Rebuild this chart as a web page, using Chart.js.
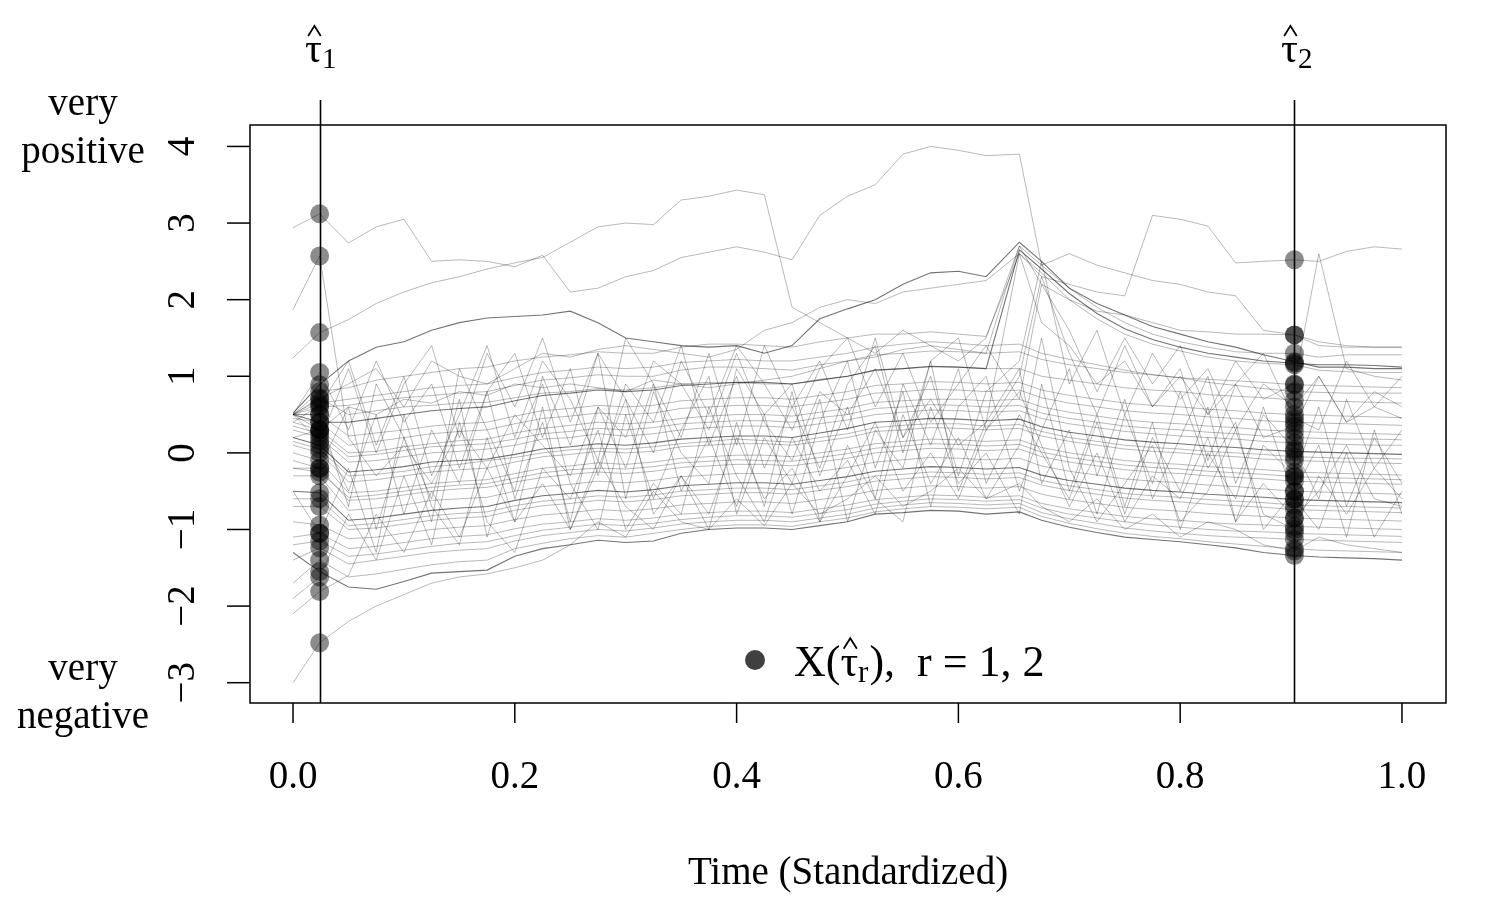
<!DOCTYPE html>
<html>
<head>
<meta charset="utf-8">
<script src="https://cdn.jsdelivr.net/npm/chart.js@4.4.1/dist/chart.umd.min.js"></script>
<style>
  html, body { margin: 0; padding: 0; background: #fff; }
  canvas { display: block; }
</style>
</head>
<body>
<canvas id="chart" width="1500" height="900"></canvas>
<script>
// time grid (standardized), index 1 = tau1, index 36 = tau2
const X_GRID = [0, 0.024, 0.05, 0.075, 0.1, 0.125, 0.15, 0.175, 0.2, 0.225,
  0.25, 0.275, 0.3, 0.325, 0.35, 0.375, 0.4, 0.425, 0.45, 0.475,
  0.5, 0.525, 0.55, 0.575, 0.6, 0.625, 0.655, 0.675, 0.7, 0.725,
  0.75, 0.775, 0.8, 0.825, 0.85, 0.875, 0.903, 0.925, 0.95, 0.975, 1.0];

const TAU_HAT = [0.024, 0.903];
const TAU_IDX = [1, 36];

const X_TICKS = [0, 0.2, 0.4, 0.6, 0.8, 1.0];
const X_TICK_LABELS = ["0.0", "0.2", "0.4", "0.6", "0.8", "1.0"];
const Y_TICKS = [-3, -2, -1, 0, 1, 2, 3, 4];
const Y_TICK_LABELS = ["\u22123", "\u22122", "\u22121", "0", "1", "2", "3", "4"];

// ---------- series ----------
const topLine = [2.94, 3.12, 2.74, 2.95, 3.05, 2.5, 2.52, 2.5, 2.43, 2.58,
  2.1, 2.15, 2.3, 2.38, 2.55, 2.62, 2.69, 2.62, 2.52, 3.1,
  3.35, 3.5, 3.9, 4.0, 3.95, 3.88, 3.9, 2.45, 2.6, 2.45,
  2.35, 2.25, 2.2, 2.1, 2.05, 1.6, 1.54, 1.4, 1.38, 1.38, 1.38];
const spikeEarly = [1.87, 2.57, 0.2, -0.3, 0.1, -0.4, 0.3, -0.2, 0.5, 0.1,
  -0.3, 0.6, 0.2, 1.2, 0.9, 0.3, 1.3, 0.4, -0.1, 0.8,
  0.5, 1.1, 0.2, 0.7, 0.1, 0.4, 2.6, 1.7, 1.4, 0.9,
  1.2, 0.6, 1.0, 0.5, 0.9, 0.2, 0.35, 1.0, 0.4, 0.6, 0.45];
const riseLine = [1.24, 1.57, 1.74, 1.95, 2.1, 2.22, 2.3, 2.4, 2.48, 2.55,
  2.75, 2.95, 3.0, 2.98, 3.3, 3.35, 3.43, 3.37, 1.9, 1.7,
  1.5, 1.3, 1.6, 1.4, 1.2, 1.5, 2.7, 2.2, 2.0, 1.85,
  1.8, 1.7, 1.6, 1.58, 1.55, 1.55, 1.54, 1.45, 1.4, 1.38, 1.38];
const lateJump = [0.5, 0.7, 0.9, 1.1, 0.6, 1.2, 1.0, 0.9, 1.1, 1.3,
  1.25, 1.35, 1.4, 1.35, 1.3, 1.25, 1.35, 1.6, 1.7, 1.9,
  2.0, 1.95, 2.1, 2.15, 2.2, 2.25, 2.6, 2.3, 2.2, 2.1,
  2.05, 3.1, 3.05, 2.96, 2.48, 2.5, 2.52, 2.5, 2.63, 2.69, 2.66];
const upperDark = [0.52, 0.89, 1.2, 1.38, 1.45, 1.6, 1.7, 1.76, 1.78, 1.8,
  1.85, 1.7, 1.5, 1.45, 1.4, 1.38, 1.4, 1.3, 1.4, 1.75,
  1.88, 2.0, 2.2, 2.35, 2.37, 2.3, 2.75, 2.5, 2.15, 1.95,
  1.8, 1.65, 1.55, 1.45, 1.38, 1.28, 1.19, 1.12, 1.12, 1.1, 1.1];
const convA = [0.5, 0.3, 0.6, 0.5, 0.7, 0.65, 0.8, 0.75, 0.9, 0.85,
  0.9, 0.85, 0.8, 0.95, 0.9, 0.85, 0.9, 0.95, 1.0, 1.1,
  1.2, 1.25, 1.35, 1.4, 1.35, 1.3, 2.7, 2.45, 2.15, 1.9,
  1.7, 1.55, 1.45, 1.38, 1.32, 1.3, 1.3, 1.25, 1.28, 1.28, 1.28];
const convB = [0.5, 0.4, 0.4, 0.45, 0.5, 0.55, 0.58, 0.6, 0.68, 0.75,
  0.78, 0.82, 0.8, 0.82, 0.88, 0.9, 0.92, 0.92, 0.9, 0.95,
  1.0, 1.08, 1.1, 1.13, 1.12, 1.1, 2.65, 2.4, 2.08, 1.82,
  1.62, 1.48, 1.38, 1.3, 1.25, 1.2, 1.17, 1.15, 1.15, 1.14, 1.12];
const convC = [0.5, 0.8, 0.85, 0.95, 1.0, 1.05, 1.1, 1.12, 1.2, 1.25,
  1.28, 1.32, 1.3, 1.3, 1.38, 1.42, 1.42, 1.4, 1.38, 1.45,
  1.5, 1.55, 1.55, 1.58, 1.55, 1.52, 2.6, 2.35, 2.0, 1.75,
  1.55, 1.42, 1.33, 1.25, 1.2, 1.17, 1.15, 1.08, 1.06, 1.05, 1.05];

const band00 = [0.5, 0.65, 0.7, 0.75, 0.8, 0.85, 0.88, 0.9, 0.98, 1.05,
  1.08, 1.12, 1.1, 1.12, 1.18, 1.2, 1.22, 1.2, 1.2, 1.25,
  1.3, 1.38, 1.42, 1.45, 1.43, 1.4, 1.42, 1.3, 1.22, 1.15,
  1.08, 1.02, 0.98, 0.92, 0.88, 0.84, 0.8, 0.79, 0.78, 0.78, 0.78];
const band01 = [0.5, 0.6, 0.62, 0.68, 0.72, 0.75, 0.78, 0.8, 0.88, 0.95,
  0.98, 1.02, 1.0, 1.0, 1.08, 1.12, 1.12, 1.1, 1.08, 1.15,
  1.2, 1.28, 1.3, 1.33, 1.32, 1.3, 1.32, 1.22, 1.15, 1.1,
  1.05, 1.02, 0.98, 0.96, 0.94, 0.92, 0.89, 0.88, 0.87, 0.86, 0.85];
const band02 = [0.5, 0.72, 0.5, 0.55, 0.6, 0.62, 0.65, 0.66, 0.72, 0.78,
  0.8, 0.84, 0.82, 0.85, 0.9, 0.92, 0.92, 0.9, 0.9, 0.96,
  1.0, 1.08, 1.1, 1.12, 1.12, 1.1, 1.1, 1.0, 0.95, 0.9,
  0.85, 0.82, 0.8, 0.76, 0.74, 0.72, 0.69, 0.68, 0.67, 0.66, 0.65];
const band03 = [0.5, 0.5, 0.22, 0.26, 0.3, 0.35, 0.38, 0.4, 0.48, 0.55,
  0.58, 0.62, 0.6, 0.62, 0.68, 0.7, 0.72, 0.72, 0.7, 0.75,
  0.8, 0.88, 0.9, 0.93, 0.92, 0.9, 0.92, 0.82, 0.75, 0.7,
  0.65, 0.62, 0.6, 0.57, 0.55, 0.52, 0.5, 0.49, 0.48, 0.47, 0.46];
const band04 = [0.45, 0.4, 0.1, 0.15, 0.2, 0.25, 0.28, 0.3, 0.38, 0.45,
  0.48, 0.52, 0.5, 0.52, 0.58, 0.6, 0.62, 0.62, 0.6, 0.65,
  0.7, 0.78, 0.8, 0.83, 0.82, 0.8, 0.82, 0.72, 0.65, 0.6,
  0.55, 0.52, 0.5, 0.47, 0.45, 0.42, 0.4, 0.39, 0.38, 0.37, 0.36];
const band05 = [0.4, 0.3, 0.0, 0.02, 0.08, 0.12, 0.16, 0.18, 0.26, 0.32,
  0.36, 0.4, 0.38, 0.4, 0.45, 0.48, 0.5, 0.5, 0.48, 0.53,
  0.58, 0.66, 0.68, 0.7, 0.7, 0.68, 0.7, 0.6, 0.53, 0.48,
  0.43, 0.4, 0.38, 0.35, 0.33, 0.3, 0.28, 0.27, 0.26, 0.25, 0.24];
const band05b = [0.35, 0.25, -0.05, -0.02, 0.03, 0.08, 0.1, 0.12, 0.18, 0.25,
  0.28, 0.32, 0.3, 0.33, 0.38, 0.4, 0.42, 0.42, 0.4, 0.46,
  0.5, 0.58, 0.6, 0.63, 0.62, 0.6, 0.62, 0.52, 0.45, 0.4,
  0.35, 0.32, 0.3, 0.27, 0.25, 0.22, 0.2, 0.19, 0.18, 0.18, 0.17];
const band06 = [0.3, 0.2, -0.12, -0.1, -0.05, 0.0, 0.02, 0.05, 0.1, 0.18,
  0.2, 0.25, 0.22, 0.25, 0.3, 0.33, 0.35, 0.35, 0.33, 0.38,
  0.43, 0.5, 0.53, 0.56, 0.55, 0.53, 0.55, 0.45, 0.38, 0.33,
  0.28, 0.25, 0.22, 0.2, 0.18, 0.15, 0.13, 0.12, 0.11, 0.1, 0.1];
const band07 = [0.2, 0.1, -0.25, -0.22, -0.18, -0.12, -0.1, -0.08, -0.02, 0.05,
  0.08, 0.12, 0.1, 0.13, 0.18, 0.2, 0.22, 0.22, 0.2, 0.26,
  0.32, 0.4, 0.42, 0.45, 0.44, 0.42, 0.44, 0.34, 0.27, 0.22,
  0.17, 0.14, 0.12, 0.09, 0.07, 0.04, 0.02, 0.01, 0.0, -0.01, -0.02];
const band07b = [0.15, 0.05, -0.3, -0.28, -0.24, -0.18, -0.15, -0.1, -0.06, 0.0,
  0.04, 0.06, 0.05, 0.08, 0.12, 0.15, 0.18, 0.16, 0.14, 0.2,
  0.25, 0.33, 0.36, 0.38, 0.38, 0.35, 0.37, 0.28, 0.2, 0.15,
  0.1, 0.07, 0.05, 0.02, 0.0, -0.02, -0.05, -0.06, -0.07, -0.07, -0.08];
const band08 = [0.1, 0.0, -0.38, -0.35, -0.3, -0.25, -0.22, -0.2, -0.12, -0.05,
  -0.02, 0.02, 0.0, 0.02, 0.08, 0.1, 0.12, 0.12, 0.1, 0.15,
  0.2, 0.28, 0.3, 0.33, 0.32, 0.3, 0.32, 0.22, 0.15, 0.1,
  0.05, 0.02, 0.0, -0.03, -0.05, -0.08, -0.1, -0.11, -0.12, -0.13, -0.14];
const band09 = [0.0, -0.1, -0.52, -0.5, -0.45, -0.4, -0.37, -0.35, -0.27, -0.2,
  -0.17, -0.13, -0.15, -0.12, -0.07, -0.05, -0.03, -0.03, -0.05, 0.0,
  0.05, 0.12, 0.15, 0.18, 0.17, 0.15, 0.17, 0.07, 0.0, -0.05,
  -0.1, -0.13, -0.15, -0.18, -0.2, -0.22, -0.25, -0.26, -0.27, -0.28, -0.29];
const band09b = [-0.2, -0.25, -0.58, -0.55, -0.5, -0.45, -0.42, -0.4, -0.33, -0.26,
  -0.22, -0.2, -0.21, -0.18, -0.13, -0.11, -0.09, -0.1, -0.11, -0.06,
  -0.01, 0.06, 0.09, 0.12, 0.11, 0.09, 0.11, 0.01, -0.06, -0.11,
  -0.16, -0.19, -0.21, -0.24, -0.26, -0.28, -0.31, -0.32, -0.33, -0.34, -0.35];
const band10 = [-0.1, -0.2, -0.62, -0.6, -0.55, -0.5, -0.47, -0.45, -0.38, -0.32,
  -0.28, -0.25, -0.27, -0.24, -0.19, -0.17, -0.15, -0.15, -0.17, -0.12,
  -0.07, 0.0, 0.03, 0.06, 0.05, 0.03, 0.05, -0.05, -0.12, -0.17,
  -0.22, -0.25, -0.27, -0.3, -0.32, -0.34, -0.37, -0.38, -0.39, -0.4, -0.41];
const band11 = [-0.3, -0.3, -0.75, -0.72, -0.68, -0.62, -0.6, -0.58, -0.5, -0.44,
  -0.41, -0.37, -0.39, -0.36, -0.31, -0.29, -0.27, -0.27, -0.29, -0.24,
  -0.19, -0.12, -0.09, -0.06, -0.07, -0.09, -0.07, -0.17, -0.24, -0.29,
  -0.34, -0.37, -0.39, -0.42, -0.44, -0.47, -0.5, -0.51, -0.52, -0.53, -0.54];
const band12 = [-0.5, -0.52, -0.88, -0.85, -0.8, -0.75, -0.72, -0.7, -0.62, -0.56,
  -0.53, -0.49, -0.51, -0.48, -0.43, -0.41, -0.39, -0.39, -0.41, -0.36,
  -0.31, -0.24, -0.21, -0.18, -0.19, -0.21, -0.19, -0.29, -0.36, -0.41,
  -0.46, -0.49, -0.51, -0.54, -0.56, -0.58, -0.61, -0.62, -0.63, -0.64, -0.65];
const band12b = [-0.6, -0.6, -0.95, -0.92, -0.87, -0.82, -0.79, -0.77, -0.69, -0.63,
  -0.6, -0.56, -0.58, -0.55, -0.5, -0.48, -0.46, -0.46, -0.48, -0.43,
  -0.38, -0.3, -0.28, -0.25, -0.26, -0.28, -0.26, -0.36, -0.43, -0.48,
  -0.53, -0.56, -0.58, -0.61, -0.63, -0.65, -0.68, -0.69, -0.7, -0.71, -0.72];
const band13 = [-0.7, -0.7, -1.0, -0.98, -0.93, -0.88, -0.85, -0.83, -0.75, -0.69,
  -0.66, -0.62, -0.64, -0.61, -0.56, -0.54, -0.52, -0.52, -0.54, -0.49,
  -0.44, -0.37, -0.34, -0.31, -0.32, -0.34, -0.32, -0.42, -0.49, -0.54,
  -0.59, -0.62, -0.64, -0.67, -0.69, -0.71, -0.74, -0.75, -0.76, -0.77, -0.78];
const band14 = [-0.9, -0.94, -1.12, -1.1, -1.05, -1.0, -0.97, -0.95, -0.87, -0.81,
  -0.78, -0.74, -0.76, -0.73, -0.68, -0.66, -0.64, -0.64, -0.66, -0.61,
  -0.56, -0.49, -0.46, -0.43, -0.44, -0.46, -0.44, -0.54, -0.61, -0.66,
  -0.71, -0.74, -0.76, -0.79, -0.81, -0.83, -0.85, -0.86, -0.87, -0.88, -0.89];
const band15 = [-1.1, -1.05, -1.25, -1.22, -1.17, -1.12, -1.09, -1.07, -0.99, -0.93,
  -0.9, -0.86, -0.88, -0.85, -0.8, -0.78, -0.76, -0.76, -0.78, -0.73,
  -0.68, -0.61, -0.58, -0.55, -0.56, -0.58, -0.56, -0.66, -0.73, -0.78,
  -0.83, -0.86, -0.88, -0.91, -0.93, -0.94, -0.96, -0.97, -0.98, -0.99, -1.0];
const band15b = [-1.2, -1.15, -1.35, -1.32, -1.27, -1.22, -1.18, -1.16, -1.08, -1.01,
  -0.97, -0.93, -0.95, -0.92, -0.87, -0.84, -0.82, -0.82, -0.84, -0.79,
  -0.74, -0.67, -0.63, -0.6, -0.61, -0.63, -0.61, -0.72, -0.8, -0.85,
  -0.9, -0.94, -0.97, -1.0, -1.02, -1.03, -1.05, -1.06, -1.07, -1.08, -1.09];
const band16 = [-1.4, -1.24, -1.45, -1.4, -1.35, -1.3, -1.27, -1.25, -1.15, -1.08,
  -1.04, -1.0, -1.02, -0.98, -0.93, -0.9, -0.88, -0.88, -0.9, -0.85,
  -0.8, -0.72, -0.68, -0.65, -0.66, -0.68, -0.66, -0.78, -0.86, -0.92,
  -0.98, -1.02, -1.05, -1.08, -1.1, -1.11, -1.13, -1.14, -1.15, -1.16, -1.17];
const band17 = [-1.7, -1.4, -1.62, -1.58, -1.52, -1.46, -1.42, -1.4, -1.25, -1.18,
  -1.12, -1.08, -1.1, -1.05, -1.0, -0.96, -0.94, -0.94, -0.96, -0.9,
  -0.85, -0.77, -0.73, -0.7, -0.71, -0.73, -0.71, -0.83, -0.92, -0.99,
  -1.05, -1.09, -1.12, -1.16, -1.19, -1.22, -1.25, -1.27, -1.28, -1.29, -1.3];
const lowerDark = [-1.3, -1.55, -1.75, -1.78, -1.68, -1.57, -1.55, -1.53, -1.35, -1.25,
  -1.2, -1.14, -1.17, -1.15, -1.05, -1.0, -0.98, -0.98, -1.0, -0.95,
  -0.9, -0.8, -0.78, -0.75, -0.76, -0.8, -0.77, -0.88, -0.97, -1.04,
  -1.1, -1.13, -1.16, -1.2, -1.24, -1.3, -1.34, -1.36, -1.37, -1.38, -1.4];
const lowOutlier = [-3.0, -2.48, -2.2, -2.0, -1.85, -1.7, -1.62, -1.58, -1.5, -1.4,
  -1.2, -0.9, -1.1, -0.5, -0.9, -1.0, -0.6, -0.95, -0.4, -0.8,
  -0.6, -0.3, -0.7, -0.5, -0.2, -0.6, -0.4, -0.7, -0.9, -0.6,
  -1.0, -0.8, -1.1, -0.9, -1.0, -1.2, -1.28, -1.1, -1.2, -1.25, -1.3];

const jump1 = [0.5, 1.05, 0.3, 1.2, 0.4, 0.9, -0.2, 0.8, 1.3, 0.2,
  1.1, -0.3, 0.9, 0.4, 1.4, 0.1, 1.0, -0.2, 0.6, 1.2,
  0.3, 1.5, 0.2, 1.0, -0.3, 0.8, 1.2, 2.5, 0.9, 1.6,
  0.5, 1.3, 0.7, 1.1, 0.3, 0.9, 0.6, 1.0, 0.4, 0.8, 0.6];
const jump2 = [0.2, 0.3, -0.5, 0.5, -0.8, 0.3, -0.4, 0.8, -0.6, 0.4,
  -0.9, 0.6, -0.2, 0.9, -0.5, 0.2, -0.7, 0.5, 0.9, -0.3,
  0.6, -0.6, 0.9, 0.1, 1.1, -0.4, 0.5, 0.0, -0.6, 0.4,
  -0.8, 0.2, -0.5, 0.6, -0.9, 0.1, -0.3, 0.6, -0.7, 0.2, -0.4];
const jump3 = [-0.2, -0.2, 0.6, -1.0, 0.2, -0.6, 0.7, -1.1, 0.1, 0.9,
  -0.4, -1.0, 0.5, -0.6, 0.3, 1.0, -0.8, 0.2, -0.4, 0.7,
  -0.9, 0.3, -0.2, 1.2, -0.5, 0.4, 1.1, -0.4, 0.3, -0.8,
  0.5, -0.4, 0.8, -0.2, 0.4, -1.0, -0.5, 0.1, -1.1, 0.3, -0.8];
const jump4 = [-1.9, -1.62, -0.8, -1.4, -0.3, -1.2, 0.4, -0.9, -1.3, -0.2,
  -0.6, 0.3, -1.0, -0.4, -0.8, 0.6, -0.3, -0.9, 0.2, -0.5,
  -0.1, -0.8, 0.5, -0.4, 0.2, -0.6, 0.1, 1.5, -0.2, -0.9,
  -0.4, 0.1, -0.9, -0.5, 0.3, -0.8, -1.0, -0.3, -0.8, -0.2, -0.6];
const jump5 = [0.5, 0.15, 1.1, 0.0, 0.9, 1.4, 0.2, 1.3, 0.6, 1.5,
  0.4, 1.3, 0.7, 0.0, 1.2, 0.5, 1.4, 0.9, 0.3, 1.1,
  1.5, 0.6, 1.3, 0.4, 0.9, 1.4, 0.7, 2.2, 1.6, 0.8,
  1.5, 0.9, 1.4, 0.5, 1.2, 0.7, 0.9, 2.6, 1.1, 1.0, 0.95];
const jump6 = [-2.1, -1.81, -1.6, -0.8, -1.3, -0.5, -1.1, -0.2, -0.9, -0.4,
  -1.0, -0.1, -0.7, -1.0, -0.3, -0.8, 0.2, -0.6, -0.2, -0.9,
  -0.3, 0.4, -0.5, 0.0, -0.6, 0.3, 0.8, 0.1, -0.7, 0.0,
  -0.9, -0.3, -0.6, 0.2, -0.9, -0.4, -0.85, -0.5, 0.1, -0.6, -0.7];
const jump7 = [0.5, 0.5, -0.7, 0.9, 0.2, -0.9, 1.1, 0.3, -0.5, 1.0,
  0.1, 1.3, -0.6, 0.8, 0.0, -0.4, 1.1, 0.5, -0.8, 0.4,
  1.2, -0.2, 0.8, -0.7, 0.6, 1.0, -0.5, 0.3, 1.1, -0.3,
  0.7, -0.6, 0.2, 1.0, -0.4, 0.5, 0.05, -0.6, 0.7, -0.2, 0.3];
const jump8 = [-0.5, -1.05, -0.2, -1.3, 0.5, -0.7, -1.2, 0.2, -0.9, 0.6,
  -1.0, -0.2, 0.7, -0.8, -0.3, -1.0, 0.4, -0.7, 0.8, -0.9,
  0.1, -0.6, -0.9, 0.6, -0.4, 0.0, -0.8, 0.9, -0.5, 0.5,
  -0.7, 0.4, -1.0, 0.0, -0.6, 0.6, -0.6, -1.0, 0.0, -1.1, -0.5];
const jump9 = [0.4, 0.62, 1.2, 0.1, 1.0, -0.3, 0.5, 1.4, 0.2, 1.2,
  0.7, -0.1, 1.5, 0.9, 0.2, 1.3, 0.1, 1.4, 0.6, -0.2,
  0.9, 1.4, 0.0, 1.2, 1.5, 0.3, 1.0, 2.3, 1.3, 0.5,
  1.4, 0.6, 1.1, -0.1, 0.9, 1.3, 0.45, 0.3, 1.2, 0.6, 1.0];

const LIGHT_SERIES = [topLine, spikeEarly, riseLine, lateJump, convA, convC,
  band00, band01, band02, band03, band04, band05, band05b, band06, band07b,
  band08, band09, band09b, band10, band11, band12b, band13, band14, band15,
  band15b, band16, band17, lowOutlier,
  jump1, jump2, jump3, jump4, jump5, jump6, jump7, jump8, jump9];
const DARK_SERIES = [upperDark, convB, band07, band12, lowerDark];

const SERIF = '"Liberation Serif", "DejaVu Serif", serif';

// ---------- build datasets ----------
const toPts = (arr) => arr.map((y, i) => ({ x: X_GRID[i], y }));

const datasets = [];
LIGHT_SERIES.forEach((s) => {
  datasets.push({
    type: "line", data: toPts(s), showLine: true,
    borderColor: "rgba(0,0,0,0.28)", borderWidth: 1,
    pointRadius: 0, tension: 0, fill: false,
  });
});
DARK_SERIES.forEach((s) => {
  datasets.push({
    type: "line", data: toPts(s), showLine: true,
    borderColor: "rgba(0,0,0,0.55)", borderWidth: 1.1,
    pointRadius: 0, tension: 0, fill: false,
  });
});

// points X(tau_r) taken from every series at the two tau indices
const allSeries = LIGHT_SERIES.concat(DARK_SERIES);
const tauPts = [];
TAU_IDX.forEach((k) => {
  allSeries.forEach((s) => tauPts.push({ x: X_GRID[k], y: s[k] }));
});
datasets.push({
  type: "scatter", data: tauPts, showLine: false,
  pointRadius: 9.5, pointHoverRadius: 9.5, borderWidth: 0,
  pointBackgroundColor: "rgba(0,0,0,0.45)", pointBorderColor: "rgba(0,0,0,0)",
});

// ---------- drawing helpers ----------
function drawHat(ctx, cx, top, w, h) {
  ctx.beginPath();
  ctx.moveTo(cx - w / 2, top + h);
  ctx.lineTo(cx, top);
  ctx.lineTo(cx + w / 2, top + h);
  ctx.lineWidth = 1.8;
  ctx.strokeStyle = "#000";
  ctx.stroke();
}

// draws tau-hat with subscript, returns x after it
function drawTauHat(ctx, x, base, size, sub) {
  ctx.font = `${size}px ${SERIF}`;
  ctx.textAlign = "left";
  ctx.textBaseline = "alphabetic";
  ctx.fillText("\u03c4", x, base);
  const w = ctx.measureText("\u03c4").width;
  drawHat(ctx, x + w / 2 + 1, base - size * 0.86, size * 0.3, size * 0.24);
  ctx.font = `${Math.round(size * 0.7)}px ${SERIF}`;
  ctx.fillText(sub, x + w, base + size * 0.14);
  return x + w + ctx.measureText(sub).width;
}

const axesPlugin = {
  id: "rAxes",
  beforeDatasetsDraw(chart) {
    const { ctx, scales: { x } } = chart;
    const a = chart.chartArea;
    ctx.save();
    ctx.strokeStyle = "#000";
    ctx.lineWidth = 1.6;
    TAU_HAT.forEach((t) => {
      const px = Math.round(x.getPixelForValue(t)) + 0.5;
      ctx.beginPath();
      ctx.moveTo(px, 100);
      ctx.lineTo(px, a.bottom);
      ctx.stroke();
    });
    ctx.restore();
  },
  afterDraw(chart) {
    const { ctx, scales: { x, y } } = chart;
    const a = chart.chartArea;
    ctx.save();
    ctx.strokeStyle = "#000";
    ctx.fillStyle = "#000";
    ctx.lineWidth = 1.5;
    ctx.strokeRect(a.left, a.top, a.right - a.left, a.bottom - a.top);

    // x axis
    ctx.font = `39px ${SERIF}`;
    ctx.textAlign = "center";
    ctx.textBaseline = "middle";
    X_TICKS.forEach((v, i) => {
      const px = x.getPixelForValue(v);
      ctx.beginPath();
      ctx.moveTo(px, a.bottom);
      ctx.lineTo(px, a.bottom + 20);
      ctx.stroke();
      ctx.fillText(X_TICK_LABELS[i], px, 778);
    });

    // y axis, labels read bottom to top
    Y_TICKS.forEach((v, i) => {
      const py = y.getPixelForValue(v);
      ctx.beginPath();
      ctx.moveTo(a.left, py);
      ctx.lineTo(a.left - 23, py);
      ctx.stroke();
      ctx.save();
      ctx.translate(184, py);
      ctx.rotate(-Math.PI / 2);
      ctx.fillText(Y_TICK_LABELS[i], 0, 0);
      ctx.restore();
    });

    // side notes
    ctx.fillText("very", 83, 105);
    ctx.fillText("positive", 83, 153);
    ctx.fillText("very", 83, 670);
    ctx.fillText("negative", 83, 718);

    ctx.fillText("Time (Standardized)", 848, 874);

    // tau labels above the plot
    drawTauHat(ctx, 305, 62, 42, "1");
    drawTauHat(ctx, 1281, 62, 42, "2");

    // legend
    ctx.beginPath();
    ctx.arc(755, 660, 10, 0, Math.PI * 2);
    ctx.fillStyle = "rgb(64,64,64)";
    ctx.fill();
    ctx.fillStyle = "#000";
    ctx.font = `44px ${SERIF}`;
    ctx.textAlign = "left";
    ctx.textBaseline = "alphabetic";
    const base = 676;
    ctx.fillText("X(", 794, base);
    let cx = 794 + ctx.measureText("X(").width;
    cx = drawTauHat(ctx, cx, base, 44, "r");
    ctx.font = `44px ${SERIF}`;
    ctx.fillText("),  r = 1, 2", cx + 1, base);
    ctx.restore();
  },
};

new Chart(document.getElementById("chart"), {
  type: "scatter",
  data: { datasets },
  options: {
    responsive: false,
    animation: false,
    events: [],
    layout: { padding: { left: 250, top: 125, right: 54, bottom: 197 } },
    scales: {
      x: { type: "linear", min: -0.0388, max: 1.0397, display: false },
      y: { type: "linear", min: -3.265, max: 4.28, display: false },
    },
    plugins: { legend: { display: false }, tooltip: { enabled: false } },
  },
  plugins: [axesPlugin],
});
</script>
</body>
</html>
